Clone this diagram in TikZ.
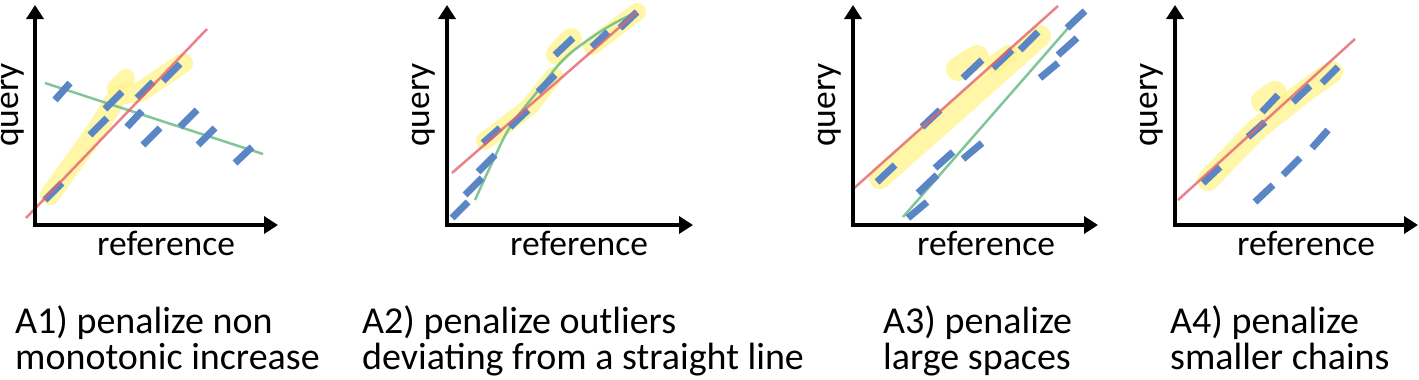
\documentclass[tikz,border=0pt]{standalone}
\usepackage{fontspec}
\setmainfont{Carlito}
\usetikzlibrary{arrows.meta}
\definecolor{cred}{HTML}{E2646E}
\definecolor{cgreen}{HTML}{72C08C}
\definecolor{cblue}{HTML}{5B86C6}
\definecolor{cyel}{HTML}{FFF38A}
\tikzset{
 axis/.style={line width=4.5pt, line join=miter, {Triangle[width=17pt,length=14pt]}-{Triangle[width=17pt,length=14pt]}},
 bluedash/.style={cblue, line width=7pt},
 redline/.style={cred, line width=2.5pt, opacity=0.8},
 greenline/.style={cgreen, line width=2.5pt, opacity=0.9},
 hl/.style={cyel, line width=#1, line cap=round, line join=round, opacity=0.75},
 hl/.default=20pt,
 lbl/.style={font=\fontsize{35.5}{40}\selectfont, inner sep=0pt},
 captext/.style={font=\fontsize{38}{44}\selectfont, inner sep=0pt, anchor=base west},
}
\begin{document}
\begin{tikzpicture}[x=1pt,y=-1pt]
\useasboundingbox (0,0) rectangle (1419,380);

% ---------- Panel 1 ----------
\draw[hl=20pt] (50,195) -- (98,128) -- (118,95) -- (140,92) -- (183,63);
\draw[hl=18pt] (116,88) -- (126,78);
\draw[greenline] (45,83) -- (263,154);
\foreach \a/\b/\c/\d in {55/100/70/83, 105/109/122/92, 137/98/153/82, 163/81/180/64,
  90/135/107/118, 127/127/142/111, 143/145/160/128, 180/127/197/110,
  198/145/215/128, 235/163/252/147, 45/200/62/183}
  \draw[bluedash] (\a,\b) -- (\c,\d);
\draw[redline] (26,218) -- (207,29);
\coordinate (o1) at (35,225); \coordinate (y1) at (35,5); \coordinate (x1) at (278,225);
\draw[axis] (y1) -- (o1) -- (x1);
\node[lbl, rotate=90, anchor=base] (q1) at (18,105) {query};
\node[lbl, anchor=base west] (r1) at (97,255) {reference};

% ---------- Panel 2 ----------
\draw[hl=18pt] (485,141) -- (528,108) -- (554,76);
\draw[hl=22pt] (557,54) -- (571,39);
\draw[hl=18pt] (592,46) -- (637,12);
\draw[greenline] plot[smooth, tension=0.6] coordinates {(475,200) (492,163) (510,127) (537,92) (563,60) (588,40) (613,24) (637,12)};
\foreach \a/\b/\c/\d in {452/218/468/202, 465/195/482/178, 478/172/495/155, 483/143/500/128,
  510/127/528/110, 538/92/555/75, 555/55/573/38, 592/47/608/32, 620/28/637/12}
  \draw[bluedash] (\a,\b) -- (\c,\d);
\draw[redline] (452,173) -- (637,12);
\coordinate (o2) at (447,225); \coordinate (y2) at (447,5); \coordinate (x2) at (693,225);
\draw[axis] (y2) -- (o2) -- (x2);
\node[lbl, rotate=90, anchor=base] (q2) at (429,105) {query};
\node[lbl, anchor=base west] (r2) at (510,255) {reference};

% ---------- Panel 3 ----------
\draw[hl=22pt] (880,178) -- (1040,36);
\draw[hl=24pt] (958,69) -- (977,57);
\draw[hl=18pt] (995,64) -- (1008,54);
\draw[greenline] (903,217) -- (1069,27);
\foreach \a/\b/\c/\d in {877/182/895/165, 922/127/940/110, 963/78/982/60, 993/68/1012/50,
  1020/50/1038/32, 908/218/927/202, 918/193/937/175, 935/168/953/152, 963/159/982/143,
  1040/78/1058/63, 1058/55/1077/38, 1067/28/1085/11}
  \draw[bluedash] (\a,\b) -- (\c,\d);
\draw[redline] (852,190) -- (1058,6);
\coordinate (o3) at (853,225); \coordinate (y3) at (853,5); \coordinate (x3) at (1098,225);
\draw[axis] (y3) -- (o3) -- (x3);
\node[lbl, rotate=90, anchor=base] (q3) at (835,105) {query};
\node[lbl, anchor=base west] (r3) at (917,255) {reference};

% ---------- Panel 4 ----------
\draw[hl=22pt] (1208,180) -- (1256,130) -- (1301,94) -- (1332,72);
\draw[hl=24pt] (1263,101) -- (1275,93);
\foreach \a/\b/\c/\d in {1203/183/1220/167, 1248/137/1265/122, 1262/112/1278/95, 1293/102/1310/86,
  1322/83/1338/67, 1255/202/1273/185, 1283/175/1300/158, 1312/148/1328/130}
  \draw[bluedash] (\a,\b) -- (\c,\d);
\draw[redline] (1178,200) -- (1355,39);
\coordinate (o4) at (1175,225); \coordinate (y4) at (1175,5); \coordinate (x4) at (1418,225);
\draw[axis] (y4) -- (o4) -- (x4);
\node[lbl, rotate=90, anchor=base] (q4) at (1157,105) {query};
\node[lbl, anchor=base west] (r4) at (1237,255) {reference};

% ---------- Captions ----------
\node[captext] (c1a) at (15,333) {A1) penalize non};
\node[captext] (c1b) at (15,369) {monotonic increase};
\node[captext] (c2a) at (362,333) {A2) penalize outliers};
\node[captext] (c2b) at (362,369) {deviating from a straight line};
\node[captext] (c3a) at (883,333) {A3) penalize};
\node[captext] (c3b) at (883,369) {large spaces};
\node[captext] (c4a) at (1170,333) {A4) penalize};
\node[captext] (c4b) at (1170,369) {smaller chains};
\end{tikzpicture}
\end{document}
